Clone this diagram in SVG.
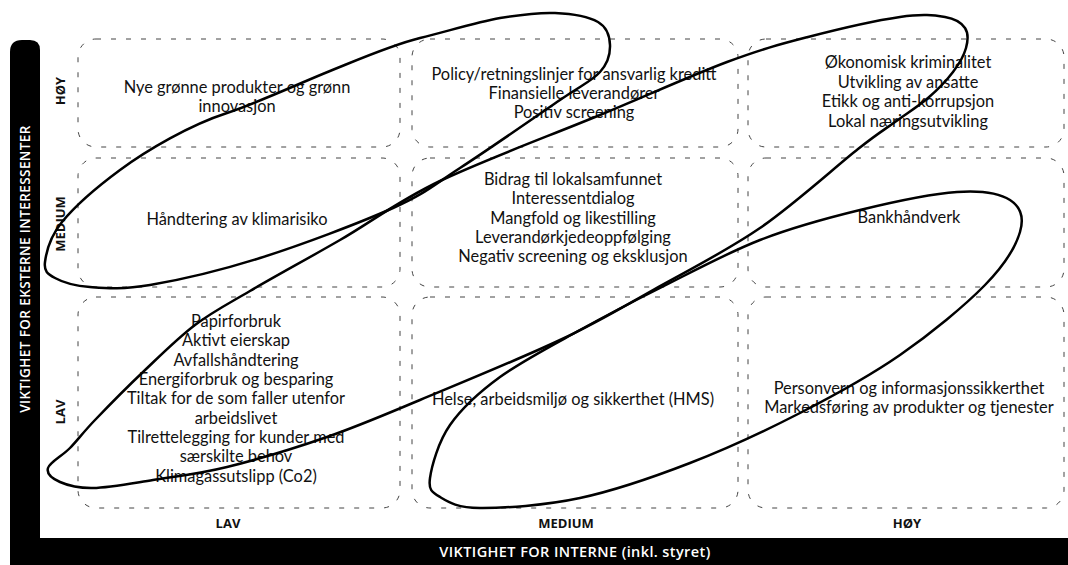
<svg xmlns="http://www.w3.org/2000/svg" width="1068" height="565" viewBox="0 0 1068 565">
<defs>
<style>
.cell{fill:none;stroke:#444;stroke-width:1;stroke-dasharray:5 10}
.t{font-family:Lato,"Open Sans","Liberation Sans",sans-serif;font-size:16.4px;fill:#111;text-anchor:middle}
.ax{font-family:"Open Sans","Liberation Sans",sans-serif;font-size:13px;font-weight:700;fill:#111;text-anchor:middle}
.ttl{font-family:"Open Sans","Liberation Sans",sans-serif;font-size:14.5px;font-weight:600;letter-spacing:0.4px;fill:#fff;text-anchor:middle}
.ttl2{font-family:"Open Sans","Liberation Sans",sans-serif;font-size:13.5px;font-weight:600;letter-spacing:0.4px;fill:#fff;text-anchor:middle}
.ell{fill:none;stroke:#000;stroke-width:2.5}
</style>
</defs>
<rect width="1068" height="565" fill="#fff"/>
<g id="frame">
<path d="M10,565 V52 Q10,40 22,40 H30 Q40,40 40,50 V538 H1068 V565 Z" fill="#000"/>
<text class="ttl2" transform="translate(30,269) rotate(-90)">VIKTIGHET FOR EKSTERNE INTERESSENTER</text>
<text class="ttl" x="575" y="557">VIKTIGHET FOR INTERNE (inkl. styret)</text>
</g>
<g id="axis-labels">
<text class="ax" transform="translate(65,91) rotate(-90)">HØY</text>
<text class="ax" transform="translate(65,224) rotate(-90)">MEDIUM</text>
<text class="ax" transform="translate(65,412) rotate(-90)">LAV</text>
<text class="ax" x="228" y="528">LAV</text>
<text class="ax" x="566" y="528">MEDIUM</text>
<text class="ax" x="907" y="528">HØY</text>
</g>
<g id="cell-lav-hoy">
<rect class="cell" x="78" y="39" width="322" height="108" rx="18"/>
<text class="t" x="237" y="93">Nye grønne produkter og grønn</text>
<text class="t" x="237" y="112">innovasjon</text>
</g>
<g id="cell-medium-hoy">
<rect class="cell" x="412" y="39" width="326" height="108" rx="18"/>
<text class="t" x="574" y="80">Policy/retningslinjer for ansvarlig kreditt</text>
<text class="t" x="574" y="99">Finansielle leverandører</text>
<text class="t" x="574" y="118">Positiv screening</text>
</g>
<g id="cell-hoy-hoy">
<rect class="cell" x="748" y="39" width="316" height="108" rx="18"/>
<text class="t" x="908" y="68">Økonomisk kriminalitet</text>
<text class="t" x="908" y="88">Utvikling av ansatte</text>
<text class="t" x="908" y="107">Etikk og anti-korrupsjon</text>
<text class="t" x="908" y="127">Lokal næringsutvikling</text>
</g>
<g id="cell-lav-medium">
<rect class="cell" x="78" y="158" width="322" height="129" rx="18"/>
<text class="t" x="237" y="225">Håndtering av klimarisiko</text>
</g>
<g id="cell-medium-medium">
<rect class="cell" x="412" y="158" width="326" height="129" rx="18"/>
<text class="t" x="573" y="185">Bidrag til lokalsamfunnet</text>
<text class="t" x="573" y="204">Interessentdialog</text>
<text class="t" x="573" y="224">Mangfold og likestilling</text>
<text class="t" x="573" y="243">Leverandørkjedeoppfølging</text>
<text class="t" x="573" y="262">Negativ screening og eksklusjon</text>
</g>
<g id="cell-hoy-medium">
<rect class="cell" x="748" y="158" width="316" height="129" rx="18"/>
<text class="t" x="909" y="223">Bankhåndverk</text>
</g>
<g id="cell-lav-lav">
<rect class="cell" x="78" y="297" width="322" height="211" rx="18"/>
<text class="t" x="236" y="327">Papirforbruk</text>
<text class="t" x="236" y="346">Aktivt eierskap</text>
<text class="t" x="236" y="366">Avfallshåndtering</text>
<text class="t" x="236" y="385">Energiforbruk og besparing</text>
<text class="t" x="236" y="404">Tiltak for de som faller utenfor</text>
<text class="t" x="236" y="424">arbeidslivet</text>
<text class="t" x="236" y="443">Tilrettelegging for kunder med</text>
<text class="t" x="236" y="462">særskilte behov</text>
<text class="t" x="236" y="482">Klimagassutslipp (Co2)</text>
</g>
<g id="cell-medium-lav">
<rect class="cell" x="412" y="297" width="326" height="211" rx="18"/>
<text class="t" x="573" y="405">Helse, arbeidsmiljø og sikkerthet (HMS)</text>
</g>
<g id="cell-hoy-lav">
<rect class="cell" x="748" y="297" width="316" height="211" rx="18"/>
<text class="t" x="909" y="394">Personvern og informasjonssikkerthet</text>
<text class="t" x="909" y="413">Markedsføring av produkter og tjenester</text>
</g>
<g id="connectors">
<path class="ell" d="M45,262 C46.2,252.7 49.5,237.3 62,222 C74.5,206.7 92.5,190.3 120,170 C147.5,149.7 190,125 227,113 C262,101 297.8,84 330,71 C362.2,58 391.7,45 420,38 C448.3,31 477.5,22 500,18 C522.5,14.3 538.7,12.3 555,13 C571.3,13.7 588.8,16.7 598,22 C607.2,27.3 609.7,36.7 610,45 C610.3,53.3 608.3,62.8 600,72 C591.7,81.2 583.3,84 560,100 C536.7,116 487.8,150 460,168 C432.2,186 426.3,193 393,208 C359.7,223 300.5,245.2 260,258 C219.5,270.8 178.3,280.2 150,285 C121.7,289.8 105.8,288.2 90,287 C74.2,285.8 62.5,282.2 55,278 C47.5,273.8 43.8,271.3 45,262 Z"/>
<path class="ell" d="M48,468 C49.7,462.3 62.2,456 70,448 C77.8,440 82.8,432.7 95,420 C107.2,407.3 126.3,387.8 143,372 C159.7,356.2 177.2,338.5 195,325 C212.8,311.5 225.8,305.2 250,291 C274.2,276.8 308.3,258.3 340,240 C371.7,221.7 396.7,201.8 440,181 C483.3,160.2 552.2,134.8 600,115 C647.8,95.2 692.3,75 727,62 C761.7,49 779.2,44.5 808,37 C836.8,29.5 877.2,20.3 900,17 C922.8,13.7 934.2,15.2 945,17 C955.8,18.8 961.5,22.8 965,28 C968.5,33.2 968,40.7 966,48 C964,55.3 959.3,63.7 953,72 C946.7,80.3 937.7,89.7 928,98 C918.3,106.3 906.7,113.5 895,122 C883.3,130.5 880.5,131.3 858,149 C835.5,166.7 794.2,204.5 760,228 C725.8,251.5 686.3,271.3 653,290 C619.7,308.7 598.8,321.7 560,340 C521.2,358.3 458.8,383.8 420,400 C381.2,416.2 359.2,425.8 327,437 C294.8,448.2 256,459.8 227,467 C198,474.2 175.3,476.5 153,480 C130.7,483.5 108.5,487.7 93,488 C77.5,488.3 67.5,485.3 60,482 C52.5,478.7 46.3,473.7 48,468 Z"/>
<path class="ell" d="M430,478 C431.7,466 438.3,441.8 450,425 C461.7,408.2 478.3,392.8 500,377 C521.7,361.2 553.3,344.8 580,330 C606.7,315.2 630,303 660,288 C690,273 726.7,253 760,240 C793.3,227 827.2,218 860,210 C892.8,202 932,193.7 957,192 C982,190.3 999.5,193.3 1010,200 C1020.5,206.7 1024.2,217.8 1020,232 C1015.8,246.2 1005,264.5 985,285 C965,305.5 930.8,333.7 900,355 C869.2,376.3 835,395 800,413 C765,431 726.7,448.8 690,463 C653.3,477.2 615,490.5 580,498 C545,505.5 503.3,508.2 480,508 C456.7,507.8 448.3,502 440,497 C431.7,492 428.3,490 430,478 Z"/>
</g>
</svg>
